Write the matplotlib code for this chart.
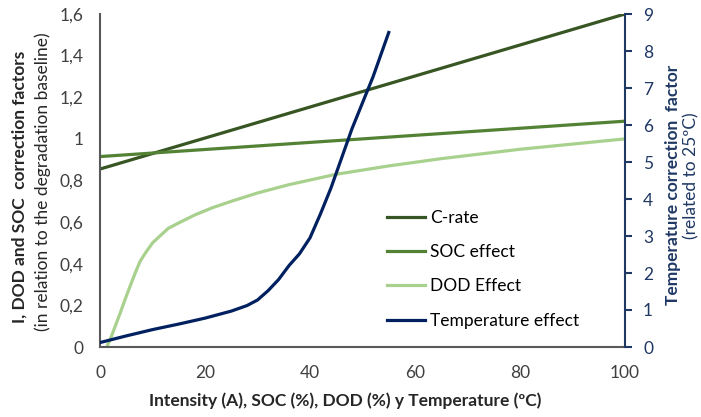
import matplotlib
matplotlib.use("Agg")
import matplotlib.pyplot as plt
from matplotlib.ticker import FuncFormatter

plt.rcParams['font.family'] = ['Lato', 'DejaVu Sans']

# C-rate and SOC effect (straight lines)
crate_x = [0, 100]
crate_y = [0.855, 1.6]
soc_x = [0, 100]
soc_y = [0.915, 1.085]

# DOD effect
dod_x = [1.3, 2, 2.9, 3.8, 4.8, 5.7, 6.7, 7.6, 8.6, 10, 11.7, 13, 14.9, 18.1, 21.5,
         25, 30, 36, 45, 55, 65, 80, 100]
dod_y = [0.0, 0.04, 0.1, 0.16, 0.23, 0.29, 0.355, 0.41, 0.45, 0.50, 0.54, 0.57, 0.595,
         0.635, 0.67, 0.70, 0.74, 0.78, 0.83, 0.87, 0.905, 0.95, 1.0]

# Temperature effect (right axis)
temp_x = [0, 5, 10, 15, 20, 25, 28, 30, 32, 34, 36, 38, 40, 42, 44, 46, 48, 50, 52, 55]
temp_y = [0.12, 0.3, 0.47, 0.62, 0.78, 0.97, 1.12, 1.27, 1.52, 1.82, 2.2, 2.52, 2.95, 3.6,
          4.3, 5.1, 5.9, 6.6, 7.3, 8.5]

c_crate = '#375623'
c_soc = '#548235'
c_dod = '#A9D18E'
c_temp = '#002060'
c_axis_r = '#1F3864'
c_grey = '#595959'

fig = plt.figure(figsize=(7.01, 4.17), dpi=100)
ax = fig.add_axes([100 / 701, 1 - 347 / 417, 525 / 701, 333 / 417])
ax2 = ax.twinx()

l1, = ax.plot(crate_x, crate_y, color=c_crate, lw=2.3, label='C-rate')
l2, = ax.plot(soc_x, soc_y, color=c_soc, lw=2.3, label='SOC effect')
l3, = ax.plot(dod_x, dod_y, color=c_dod, lw=2.3, label='DOD Effect')
l4, = ax2.plot(temp_x, temp_y, color=c_temp, lw=2.3, label='Temperature effect')

ax.set_xlim(0, 100)
ax.set_ylim(0, 1.6)
ax2.set_ylim(0, 9)
ax.set_xticks(range(0, 101, 20))
ax.set_yticks([0, 0.2, 0.4, 0.6, 0.8, 1.0, 1.2, 1.4, 1.6])
ax2.set_yticks(range(0, 10))

ax.yaxis.set_major_formatter(FuncFormatter(lambda v, p: ('%g' % round(v, 1)).replace('.', ',')))

for a in (ax, ax2):
    a.spines['top'].set_visible(False)
ax.spines['right'].set_visible(False)
ax2.spines['left'].set_visible(False)
ax2.spines['bottom'].set_visible(False)
ax.spines['left'].set_color(c_grey)
ax.spines['bottom'].set_color(c_grey)
ax.spines['left'].set_linewidth(1.5)
ax.spines['bottom'].set_linewidth(1.5)
ax2.spines['right'].set_color(c_axis_r)
ax2.spines['right'].set_linewidth(1.5)

ax.tick_params(axis='y', length=0, pad=12, labelsize=12.5, labelcolor='#404040')
ax.tick_params(axis='x', length=0, pad=13, labelsize=12.5, labelcolor='#404040')
ax2.tick_params(axis='y', length=5, width=1.5, color=c_axis_r, pad=8, labelsize=12.5,
                labelcolor=c_axis_r)

ax.set_xlabel('Intensity (A), SOC (%), DOD (%) y Temperature (ºC)',
              fontsize=12.5, fontweight='bold', color='#262626')
ax.xaxis.set_label_coords(245 / 525, -45 / 333)

fig.text(20 / 701, 1 - 187 / 417, 'I, DOD and SOC  correction factors', rotation=90,
         ha='center', va='center', fontsize=12.5, fontweight='bold', color='#262626')
fig.text(43 / 701, 1 - 182 / 417, '(in relation to the degradation baseline)', rotation=90,
         ha='center', va='center', fontsize=12.5, color='#262626')
fig.text(673 / 701, 1 - 185 / 417, 'Temperature correction  factor', rotation=90,
         ha='center', va='center', fontsize=12.5, fontweight='bold', color=c_axis_r)
fig.text(691 / 701, 1 - 176 / 417, '(related to 25ºC)', rotation=90,
         ha='center', va='center', fontsize=12.5, color=c_axis_r)

ax.legend(handles=[l1, l2, l3, l4], loc='upper left', frameon=False,
          bbox_to_anchor=(387 / 701, 1 - 210 / 417), bbox_transform=fig.transFigure,
          borderpad=0, borderaxespad=0, fontsize=12.5, handlelength=2.2,
          handletextpad=0.3, labelspacing=1.05)

fig.savefig('out.png', dpi=100)
